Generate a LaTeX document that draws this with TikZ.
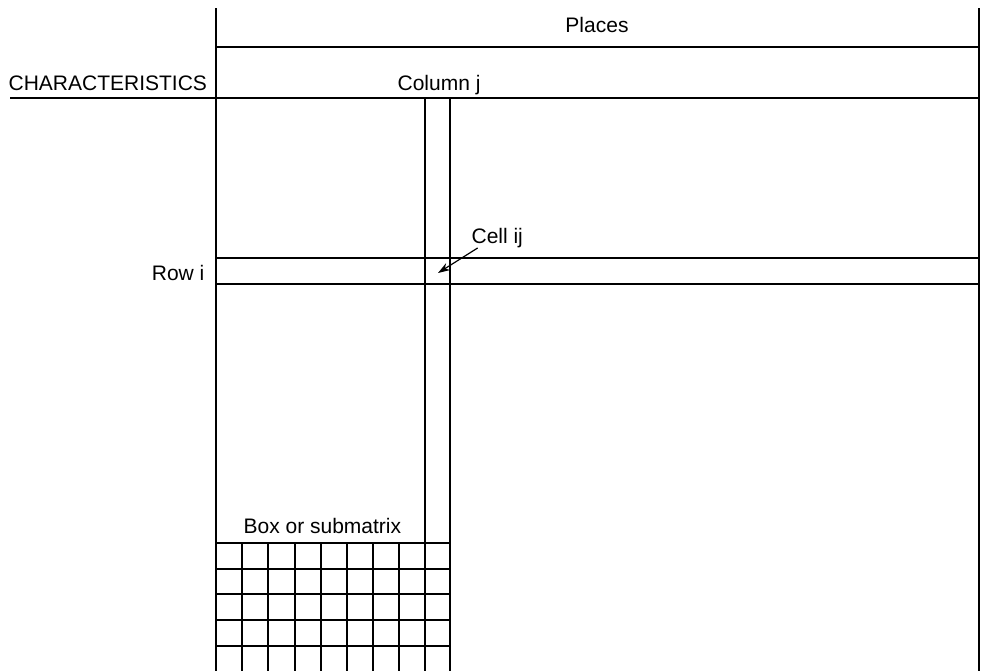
\documentclass[tikz,border=0pt]{standalone}
\usepackage{fontspec}
\setmainfont{Liberation Sans}
\usetikzlibrary{arrows.meta}

\begin{document}
\begin{tikzpicture}[x=.75pt,y=-.75pt,line width=.9pt,
  lbl/.style={inner sep=0pt,font=\fontsize{15.75}{19}\selectfont}]
\path[use as bounding box] (0,0) rectangle (981,671);
% frame
\draw (216,8) -- (216,671);
\draw (979,8) -- (979,671);
\draw (216,47) -- (979,47);
\draw (10,98) -- (979,98);
% column j
\draw (425,98) -- (425,671);
\draw (450,98) -- (450,671);
% row i
\draw (216,258) -- (979,258);
\draw (216,284) -- (979,284);
% box or submatrix
\foreach \x in {242,268,295,321,347,373,399} \draw (\x,543) -- (\x,671);
\foreach \y in {543,569,594,620,646} \draw (216,\y) -- (450,\y);
% labels
\node[lbl,anchor=base] (places) at (597,32) {Places};
\node[lbl,anchor=base west] (charac) at (8,90) {CHARACTERISTICS};
\node[lbl,anchor=base west] (colj) at (397,90) {Column j};
\node[lbl,anchor=base west] (cellij) at (471,243) {Cell ij};
\node[lbl,anchor=base east] (rowi) at (205,280) {Row i};
\node[lbl,anchor=base west] (boxsub) at (243,533) {Box or submatrix};
\coordinate (cell) at (438,273);
\draw[-{Stealth[length=9pt,width=6pt]}] ([xshift=5pt]cellij.south west) -- (cell);
\end{tikzpicture}
\end{document}
